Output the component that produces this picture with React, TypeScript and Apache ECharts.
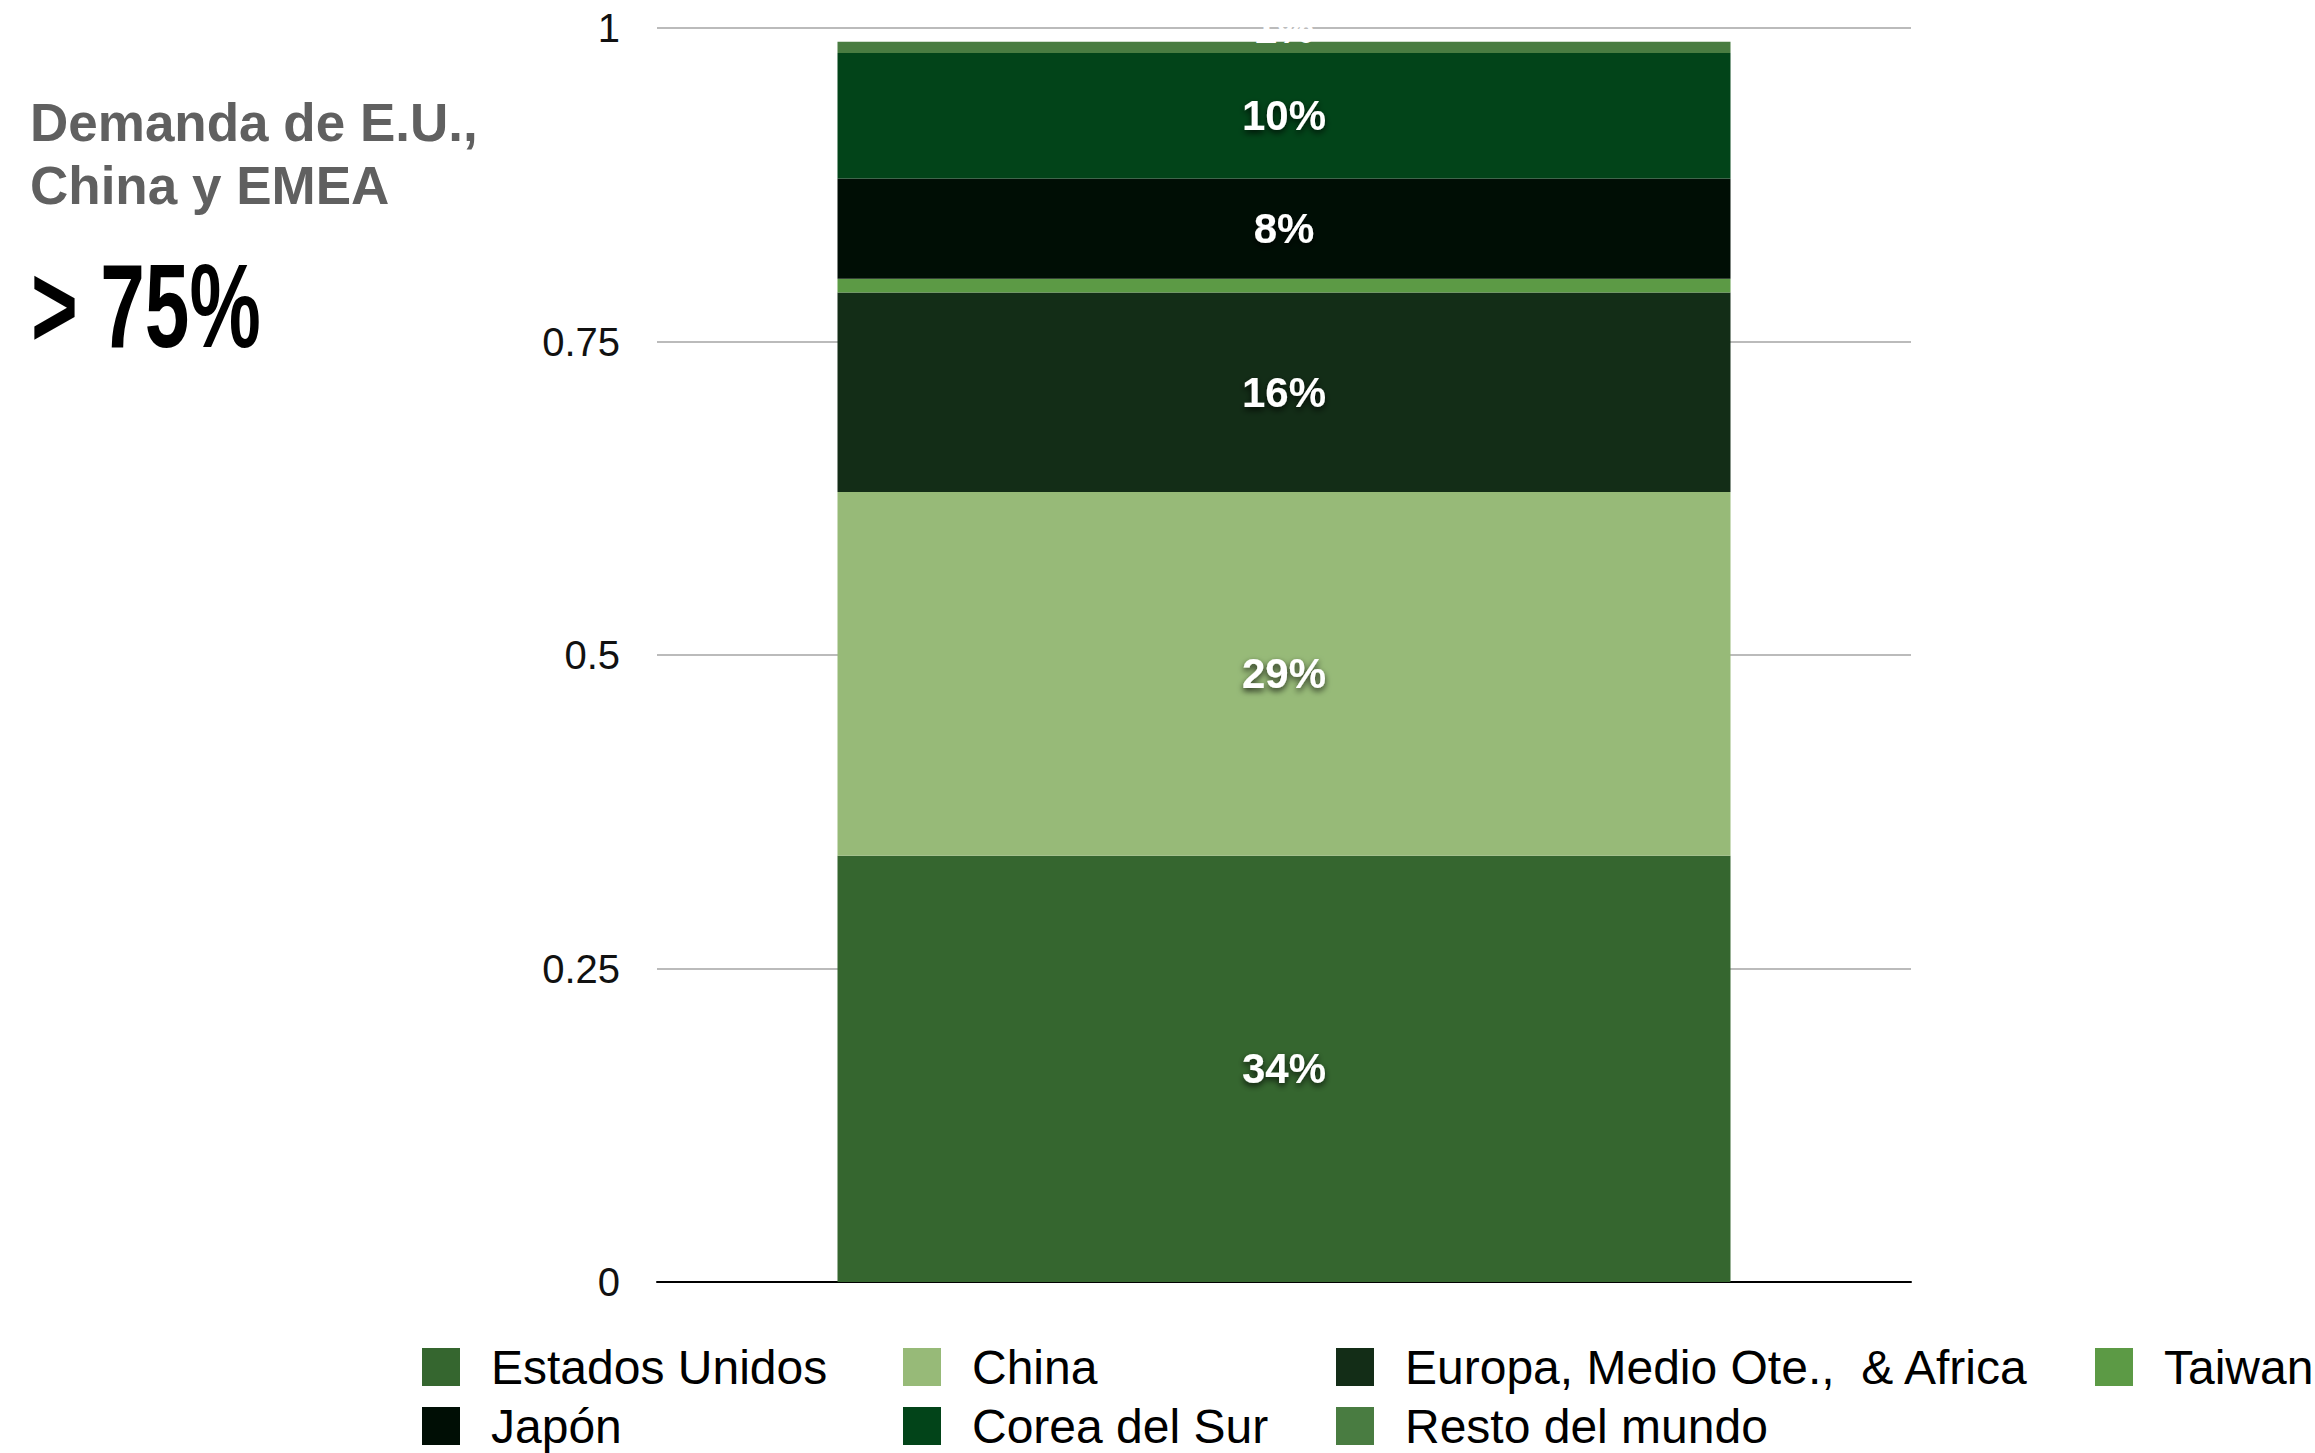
import React, { useEffect, useRef } from "react";
import * as echarts from "echarts";

const categories = ["Demanda"];
const seriesNames = [
  "Estados Unidos",
  "China",
  "Europa, Medio Ote.,  & Africa",
  "Taiwan",
  "Japón",
  "Corea del Sur",
  "Resto del mundo",
];
const estadosUnidos = [0.34];
const china = [0.29];
const europa = [0.159];
const taiwan = [0.011];
const japon = [0.08];
const corea = [0.1];
const resto = [0.009];
const seriesValues = [estadosUnidos, china, europa, taiwan, japon, corea, resto];
const seriesColors = ["#35662F", "#97BA78", "#132D17", "#5C9A45", "#000E05", "#024419", "#497C41"];
const showLabel = [true, true, true, false, true, true, true];
const yTicks = { min: 0, max: 1, interval: 0.25 };

const legendColumns = [
  { left: 422, items: ["Estados Unidos", "Japón"] },
  { left: 903, items: ["China", "Corea del Sur"] },
  { left: 1336, items: ["Europa, Medio Ote.,  & Africa", "Resto del mundo"] },
  { left: 2095, items: ["Taiwan"] },
];

export default function App() {
  const ref = useRef<HTMLDivElement>(null);
  useEffect(() => {
    if (!ref.current) return;
    const chart = echarts.init(ref.current, undefined, { renderer: "svg" });
    const font = '"Liberation Sans", Arial, Helvetica, sans-serif';
    const series = seriesNames.map((name, i) => ({
      name,
      type: "bar",
      stack: "total",
      barWidth: 893,
      data: seriesValues[i],
      itemStyle: { color: seriesColors[i] },
      label: {
        show: showLabel[i],
        position: i === 6 ? "top" : "inside",
        distance: i === 6 ? -8 : 5,
        formatter: (p: any) => Math.round(p.value * 100) + "%",
        color: "#ffffff",
        fontFamily: font,
        fontWeight: "bold",
        fontSize: 42,
        textBorderWidth: 0,
        textShadowColor: i === 6 ? "transparent" : "rgba(0,0,0,0.75)",
        textShadowBlur: i === 6 ? 0 : 6,
        textShadowOffsetY: i === 6 ? 0 : 3,
      },
      emphasis: { disabled: true },
    }));
    chart.setOption({
      animation: false,
      backgroundColor: "#ffffff",
      textStyle: { fontFamily: font },
      grid: { left: 657, right: 404, top: 28, bottom: 171, containLabel: false },
      xAxis: {
        type: "category",
        data: categories,
        axisLabel: { show: false },
        axisTick: { show: false },
        axisLine: { show: true, lineStyle: { color: "#000000", width: 2 } },
      },
      yAxis: {
        type: "value",
        min: yTicks.min,
        max: yTicks.max,
        interval: yTicks.interval,
        axisLine: { show: false },
        axisTick: { show: false },
        axisLabel: { color: "#111111", fontSize: 40, fontFamily: font, margin: 37 },
        splitLine: { lineStyle: { color: "#bbbbbb", width: 2 } },
      },
      legend: legendColumns.map((col) => ({
        orient: "vertical",
        left: col.left,
        top: 1343,
        padding: 0,
        itemGap: 11,
        itemWidth: 38,
        itemHeight: 38,
        icon: "rect",
        data: col.items,
        selectedMode: false,
        textStyle: {
          fontSize: 48,
          lineHeight: 48,
          color: "#000000",
          fontFamily: font,
          padding: [0, 0, 0, 26],
        },
      })),
      graphic: [
        {
          type: "text",
          left: 30,
          top: 91,
          style: {
            text: "Demanda de E.U.,\nChina y EMEA",
            fill: "#606060",
            font: 'bold 53px "Liberation Sans", Arial, sans-serif',
            lineHeight: 63,
          },
        },
        {
          type: "text",
          x: 31,
          y: 306,
          scaleX: 0.68,
          style: {
            text: "> 75%",
            fill: "#000000",
            font: 'bold 118px "Liberation Sans", Arial, sans-serif',
            verticalAlign: "middle",
          },
        },
      ],
      series,
    });
    return () => chart.dispose();
  }, []);
  return (
    <div
      ref={ref}
      style={{ width: 2315, height: 1453, position: "absolute", left: 0, top: 0 }}
    />
  );
}
